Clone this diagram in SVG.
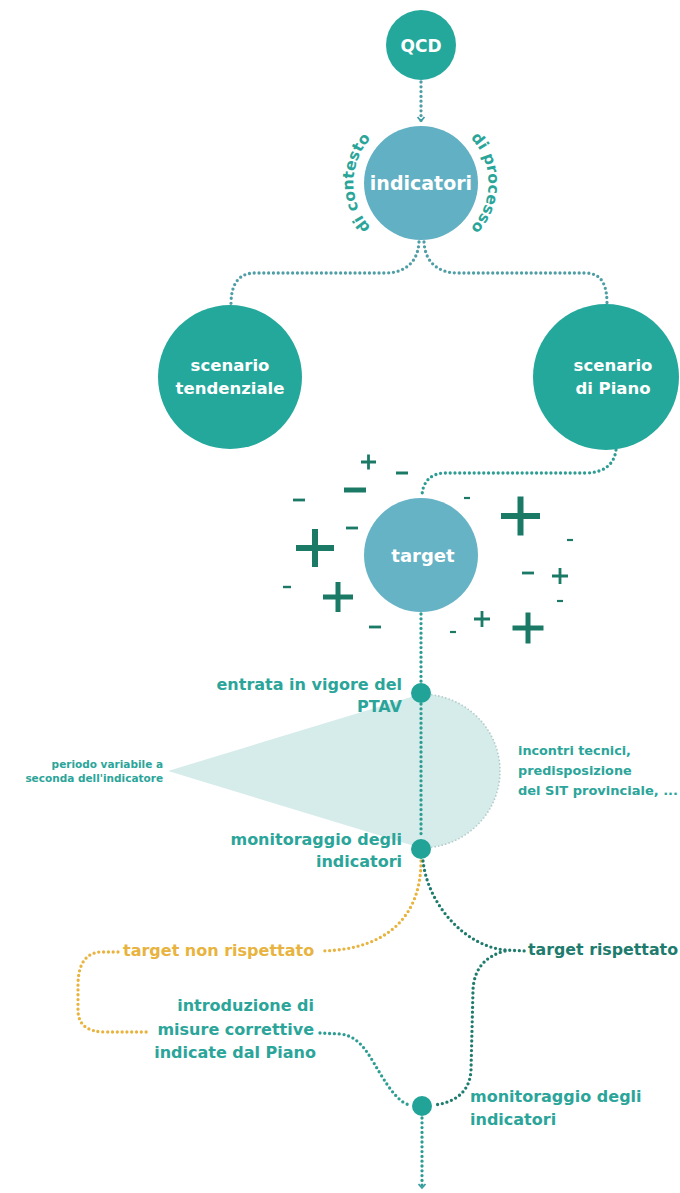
<svg xmlns="http://www.w3.org/2000/svg" width="680" height="1193" viewBox="0 0 680 1193">
<defs>
<style>
text{font-family:"DejaVu Sans","Liberation Sans",sans-serif;font-weight:700}
.w{fill:#ffffff}
.lt{fill:#2ba59a;font-size:16px}
.dot{fill:none;stroke-width:3.3;stroke-linecap:round;stroke-dasharray:0 4.8}
.c1{stroke:#4f9ea6}
.c2{stroke:#2d9d94}
.c3{stroke:#1e7b6e}
.cy{stroke:#e8b33e}
.pm{stroke:#1b7a66;stroke-linecap:butt}
</style>
<marker id="arr" markerUnits="userSpaceOnUse" markerWidth="9" markerHeight="9" refX="5" refY="4.5" orient="auto">
<path d="M1,1 L5,4.5 L1,8" fill="none" stroke="#3c9ea2" stroke-width="1.8"/>
</marker>
<path id="arcL" d="M 397.1 245.1 A 66 66 0 0 1 397.1 120.9"/>
<path id="arcR" d="M 444.9 120.9 A 66 66 0 0 1 444.9 245.1"/>
</defs>
<rect width="680" height="1193" fill="#ffffff"/>

<g id="fan">
<path d="M 168 771 L 421 694 A 79 77 0 0 1 421 848 Z" fill="#d6ecea"/>
<path d="M 421 694 A 79 77 0 0 1 421 848" fill="none" stroke="#b2cdca" stroke-width="1.8" stroke-linecap="round" stroke-dasharray="0 3.6"/>
</g>

<g id="connectors">
<path class="dot c1" d="M 421 82 L 421 121" marker-end="url(#arr)"/>
<path class="dot c1" d="M 419 242 C 418 262, 405 273, 385 273 L 255 273 C 238 273, 231 285, 231 304"/>
<path class="dot c1" d="M 424 242 C 425 262, 438 273, 458 273 L 585 273 C 602 273, 607 285, 607 304"/>
<path class="dot c2" d="M 616 450 C 614 466, 602 473, 585 473 L 445 473 C 431 473, 422 482, 422 497"/>
<path class="dot c2" d="M 421 614 L 421 683"/>
<path class="dot c2" d="M 421 704 L 421 838"/>
<path class="dot cy" d="M 421 861 C 421 912, 392 950, 320 951"/>
<path class="dot cy" d="M 118 952 L 100 952 C 86 953, 78 964, 78 985 L 78 1010 C 78 1025, 88 1032, 105 1032 L 150 1032"/>
<path class="dot c3" d="M 423 861 C 428 905, 465 946, 505 950 L 525 951"/>
<path class="dot c3" d="M 505 951 C 486 956, 474 968, 473 990 L 471 1070 C 470 1094, 452 1103, 434 1105"/>
<path class="dot c2" d="M 320 1033 L 340 1034 C 362 1036, 370 1058, 383 1078 C 394 1096, 403 1104, 410 1105"/>
<path class="dot c2" d="M 422 1118 L 422 1188" marker-end="url(#arr)"/>
</g>

<g id="qcd">
<circle cx="421" cy="45" r="35" fill="#25a89c"/>
<text class="w" x="421" y="52" font-size="17" text-anchor="middle">QCD</text>
</g>

<g id="indicatori">
<circle cx="421" cy="183" r="57" fill="#62b0c3"/>
<text class="w" x="421" y="190" font-size="19" text-anchor="middle">indicatori</text>
<text font-size="15.5" fill="#2ba59a"><textPath href="#arcL" startOffset="50%" text-anchor="middle">di contesto</textPath></text>
<text font-size="15.5" fill="#2ba59a"><textPath href="#arcR" startOffset="50%" text-anchor="middle">di processo</textPath></text>
</g>

<g id="scenario-tendenziale">
<circle cx="230" cy="377" r="72" fill="#25a89c"/>
<text class="w" x="230" y="371" font-size="16.5" text-anchor="middle">scenario</text>
<text class="w" x="230" y="394" font-size="16.5" text-anchor="middle">tendenziale</text>
</g>

<g id="scenario-piano">
<circle cx="606" cy="377" r="73" fill="#25a89c"/>
<text class="w" x="613" y="371" font-size="16.5" text-anchor="middle">scenario</text>
<text class="w" x="613" y="394" font-size="16.5" text-anchor="middle">di Piano</text>
</g>

<g id="target">
<circle cx="421" cy="555" r="57" fill="#66b3c6"/>
<text class="w" x="423" y="562" font-size="18" text-anchor="middle">target</text>
</g>

<g id="plusminus">
<path class="pm" stroke-width="2.8" d="M361 462h15M368.5 454.5v15"/>
<path class="pm" stroke-width="3" d="M396 473h12"/>
<path class="pm" stroke-width="5" d="M344 490h22"/>
<path class="pm" stroke-width="2.8" d="M293 500h12"/>
<path class="pm" stroke-width="2.8" d="M346 528h12"/>
<path class="pm" stroke-width="6" d="M296 548h38M315 529v38"/>
<path class="pm" stroke-width="2.4" d="M283 587h8"/>
<path class="pm" stroke-width="5" d="M323 597h30M338 582v30"/>
<path class="pm" stroke-width="2.8" d="M369 627h12"/>
<path class="pm" stroke-width="2.2" d="M464 498h6"/>
<path class="pm" stroke-width="6" d="M501 516h39M520.5 496.5v39"/>
<path class="pm" stroke-width="2.2" d="M567 540h6"/>
<path class="pm" stroke-width="2.8" d="M522 573h12"/>
<path class="pm" stroke-width="2.8" d="M552 576h16M560 568v16"/>
<path class="pm" stroke-width="2.2" d="M557 601h6"/>
<path class="pm" stroke-width="2.8" d="M474 619h16M482 611v16"/>
<path class="pm" stroke-width="2.2" d="M450 632h6"/>
<path class="pm" stroke-width="5" d="M512.5 628h31M528 612.5v31"/>
</g>

<g id="entrata">
<circle cx="421" cy="693" r="10" fill="#22a398"/>
<text class="lt" x="402" y="690" text-anchor="end">entrata in vigore del</text>
<text class="lt" x="402" y="712" text-anchor="end">PTAV</text>
</g>

<g id="periodo">
<text fill="#2ba59a" font-size="10.5" x="163" y="768" text-anchor="end">periodo variabile a</text>
<text fill="#2ba59a" font-size="10.5" x="163" y="782" text-anchor="end">seconda dell'indicatore</text>
</g>

<g id="incontri">
<text fill="#2ba59a" font-size="12.8" x="518" y="755">incontri tecnici,</text>
<text fill="#2ba59a" font-size="12.8" x="518" y="775">predisposizione</text>
<text fill="#2ba59a" font-size="12.8" x="518" y="795" textLength="160" lengthAdjust="spacingAndGlyphs">del SIT provinciale, ...</text>
</g>

<g id="monitoraggio-1">
<circle cx="421" cy="849" r="10" fill="#22a398"/>
<text class="lt" x="402" y="845" text-anchor="end">monitoraggio degli</text>
<text class="lt" x="402" y="867" text-anchor="end">indicatori</text>
</g>

<g id="non-rispettato">
<text x="123" y="956" font-size="16" fill="#e8b33e">target non rispettato</text>
</g>

<g id="rispettato">
<text x="528" y="955" font-size="16" fill="#1e7b6e" textLength="150" lengthAdjust="spacingAndGlyphs">target rispettato</text>
</g>

<g id="misure">
<text class="lt" x="314" y="1011" text-anchor="end">introduzione di</text>
<text class="lt" x="314" y="1035" text-anchor="end">misure correttive</text>
<text class="lt" x="316" y="1058" text-anchor="end">indicate dal Piano</text>
</g>

<g id="monitoraggio-2">
<circle cx="422" cy="1106" r="10" fill="#22a398"/>
<text class="lt" x="470" y="1102">monitoraggio degli</text>
<text class="lt" x="470" y="1125">indicatori</text>
</g>
</svg>
